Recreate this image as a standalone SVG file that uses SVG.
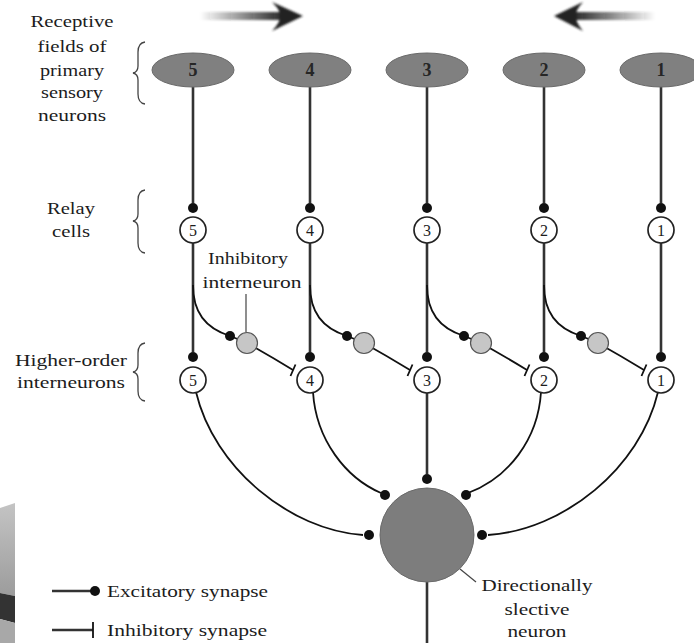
<svg xmlns="http://www.w3.org/2000/svg" width="694" height="643" viewBox="0 0 694 643">
  <style>
    .lbl { font-family: "Liberation Serif", serif; font-size: 17px; fill: #1c1c1c; }
    .num { font-family: "Liberation Serif", serif; font-size: 16px; fill: #1c1c1c; text-anchor: middle; }
    .big { font-size: 18px; font-weight: bold; fill: #262626; }
    .axon { stroke: #333; stroke-width: 2.6; fill: none; }
    .fiber { stroke: #111; stroke-width: 1.8; fill: none; }
    .field { fill: #808080; stroke: #6a6a6a; stroke-width: 1; }
    .cell { fill: #fff; stroke: #222; stroke-width: 1.7; }
    .inter { fill: #c6c6c6; stroke: #555; stroke-width: 1.2; }
    .syn { fill: #111; }
    .brace { stroke: #444; stroke-width: 1.3; fill: none; }
    .ptr { stroke: #444; stroke-width: 1.2; fill: none; }
  </style>
  <defs>
    <linearGradient id="shaftR" gradientUnits="userSpaceOnUse" x1="200" y1="0" x2="285" y2="0">
      <stop offset="0" stop-color="#222" stop-opacity="0"/>
      <stop offset="1" stop-color="#222" stop-opacity="1"/>
    </linearGradient>
    <linearGradient id="shaftL" gradientUnits="userSpaceOnUse" x1="655" y1="0" x2="572" y2="0">
      <stop offset="0" stop-color="#222" stop-opacity="0"/>
      <stop offset="1" stop-color="#222" stop-opacity="1"/>
    </linearGradient>
    <linearGradient id="slab" x1="0" y1="0" x2="0" y2="1">
      <stop offset="0" stop-color="#c4c4c4"/>
      <stop offset="1" stop-color="#9c9c9c"/>
    </linearGradient>
    <filter id="soft" x="-10%" y="-50%" width="120%" height="200%">
      <feGaussianBlur stdDeviation="1.1"/>
    </filter>
  </defs>

  <!-- grey slab at the lower left edge -->
  <g id="slab-edge">
    <polygon points="0,508 15,503 15,596 0,593" fill="url(#slab)"/>
    <polygon points="0,593 15,596 15,623 0,619" fill="#333"/>
    <polygon points="0,619 15,623 15,643 0,643" fill="#a8a8a8"/>
  </g>

  <!-- motion arrows -->
  <g id="motion-arrows" filter="url(#soft)">
    <rect x="200" y="12" width="82" height="8" fill="url(#shaftR)"/>
    <path d="M303,16 L272,2 Q282,12 279,16 Q282,20 272,31 Z" fill="#222"/>
    <rect x="574" y="12" width="82" height="8" fill="url(#shaftL)"/>
    <path d="M554,16 L583,2 Q574,12 577,16 Q574,20 583,31 Z" fill="#222"/>
  </g>

  <!-- left-hand labels and braces -->
  <g id="label-receptive" class="lbl" text-anchor="middle">
    <text x="72" y="27" textLength="83" lengthAdjust="spacingAndGlyphs">Receptive</text>
    <text x="72" y="52" textLength="69" lengthAdjust="spacingAndGlyphs">fields of</text>
    <text x="72" y="76" textLength="64" lengthAdjust="spacingAndGlyphs">primary</text>
    <text x="72" y="98" textLength="62" lengthAdjust="spacingAndGlyphs">sensory</text>
    <text x="72" y="121" textLength="68" lengthAdjust="spacingAndGlyphs">neurons</text>
  </g>
  <path class="brace" d="M145,42 Q138,43 138,52 L138,66 Q138,72 133,73 Q138,74 138,80 L138,94 Q138,103 145,104"/>

  <g id="label-relay" class="lbl" text-anchor="middle">
    <text x="71" y="214" textLength="48" lengthAdjust="spacingAndGlyphs">Relay</text>
    <text x="71" y="237" textLength="38" lengthAdjust="spacingAndGlyphs">cells</text>
  </g>
  <path class="brace" d="M145,190 Q138,191 138,200 L138,214 Q138,220 133,221 Q138,222 138,228 L138,243 Q138,252 145,253"/>

  <g id="label-higher" class="lbl" text-anchor="middle">
    <text x="71" y="366" textLength="112" lengthAdjust="spacingAndGlyphs">Higher-order</text>
    <text x="71" y="388" textLength="108" lengthAdjust="spacingAndGlyphs">interneurons</text>
  </g>
  <path class="brace" d="M145,343 Q138,344 138,353 L138,365 Q138,371 133,372 Q138,373 138,379 L138,391 Q138,400 145,401"/>

  <!-- connectors -->
  <g id="connectors">
    <!-- receptive field to relay cell to higher-order interneuron -->
    <path class="axon" d="M193,87 V203 M193,243 V352"/>
    <path class="axon" d="M310,87 V203 M310,243 V352"/>
    <path class="axon" d="M427,87 V203 M427,243 V352"/>
    <path class="axon" d="M544,87 V203 M544,243 V352"/>
    <path class="axon" d="M661,87 V203 M661,243 V352"/>

    <!-- collateral branches through inhibitory interneurons -->
    <path class="fiber" d="M193,285 C193,312 205,328 230,336 L245,342 Q270,356 293,370"/>
    <path class="fiber" d="M310,285 C310,312 322,328 347,336 L362,342 Q387,356 410,370"/>
    <path class="fiber" d="M427,285 C427,312 439,328 464,336 L479,342 Q504,356 527,370"/>
    <path class="fiber" d="M544,285 C544,312 556,328 581,336 L596,342 Q621,356 644,370"/>
    <!-- inhibitory bars -->
    <path class="fiber" d="M290.5,376 L295.5,364.5 M407.5,376 L412.5,364.5 M524.5,376 L529.5,364.5 M641.5,376 L646.5,364.5"/>

    <!-- higher-order interneurons converge on the output neuron -->
    <path class="fiber" d="M196,392 C214,468 290,530 363,535"/>
    <path class="fiber" d="M313,392 C316,440 346,478 381,493"/>
    <path class="axon" d="M427,393 V474"/>
    <path class="fiber" d="M541,392 C538,440 508,478 468,493"/>
    <path class="fiber" d="M658,392 C640,468 564,530 488,535"/>

    <!-- output axon -->
    <path class="axon" d="M427,582 V643"/>

    <!-- excitatory synapses -->
    <g class="syn">
      <circle cx="193" cy="208" r="5"/><circle cx="310" cy="208" r="5"/><circle cx="427" cy="208" r="5"/><circle cx="544" cy="208" r="5"/><circle cx="661" cy="208" r="5"/>
      <circle cx="193" cy="357" r="5"/><circle cx="310" cy="357" r="5"/><circle cx="427" cy="357" r="5"/><circle cx="544" cy="357" r="5"/><circle cx="661" cy="357" r="5"/>
      <circle cx="230" cy="336" r="5"/><circle cx="347" cy="336" r="5"/><circle cx="464" cy="336" r="5"/><circle cx="581" cy="336" r="5"/>
      <circle cx="369" cy="535" r="5"/><circle cx="385" cy="495" r="5"/><circle cx="427" cy="479" r="5"/><circle cx="466" cy="495" r="5"/><circle cx="482" cy="535" r="5"/>
    </g>
  </g>

  <!-- receptive fields of primary sensory neurons -->
  <g id="field-5"><ellipse class="field" cx="193" cy="70" rx="41" ry="17"/><text class="num big" x="193" y="76">5</text></g>
  <g id="field-4"><ellipse class="field" cx="310" cy="70" rx="41" ry="17"/><text class="num big" x="310" y="76">4</text></g>
  <g id="field-3"><ellipse class="field" cx="427" cy="70" rx="41" ry="17"/><text class="num big" x="427" y="76">3</text></g>
  <g id="field-2"><ellipse class="field" cx="544" cy="70" rx="41" ry="17"/><text class="num big" x="544" y="76">2</text></g>
  <g id="field-1"><ellipse class="field" cx="661" cy="70" rx="41" ry="17"/><text class="num big" x="661" y="76">1</text></g>

  <!-- relay cells -->
  <g id="relay-5"><circle class="cell" cx="193" cy="230" r="13"/><text class="num" x="193" y="236">5</text></g>
  <g id="relay-4"><circle class="cell" cx="310" cy="230" r="13"/><text class="num" x="310" y="236">4</text></g>
  <g id="relay-3"><circle class="cell" cx="427" cy="230" r="13"/><text class="num" x="427" y="236">3</text></g>
  <g id="relay-2"><circle class="cell" cx="544" cy="230" r="13"/><text class="num" x="544" y="236">2</text></g>
  <g id="relay-1"><circle class="cell" cx="661" cy="230" r="13"/><text class="num" x="661" y="236">1</text></g>

  <!-- inhibitory interneurons -->
  <g id="inhib-5"><circle class="inter" cx="247" cy="343" r="10.5"/></g>
  <g id="inhib-4"><circle class="inter" cx="364" cy="343" r="10.5"/></g>
  <g id="inhib-3"><circle class="inter" cx="481" cy="343" r="10.5"/></g>
  <g id="inhib-2"><circle class="inter" cx="598" cy="343" r="10.5"/></g>

  <g id="label-inhibitory" class="lbl" text-anchor="middle">
    <text x="248" y="264" textLength="80" lengthAdjust="spacingAndGlyphs">Inhibitory</text>
    <text x="252" y="288" textLength="99" lengthAdjust="spacingAndGlyphs">interneuron</text>
    <path class="ptr" d="M246,294 V332"/>
  </g>

  <!-- higher-order interneurons -->
  <g id="higher-5"><circle class="cell" cx="193" cy="380" r="13"/><text class="num" x="193" y="386">5</text></g>
  <g id="higher-4"><circle class="cell" cx="310" cy="380" r="13"/><text class="num" x="310" y="386">4</text></g>
  <g id="higher-3"><circle class="cell" cx="427" cy="380" r="13"/><text class="num" x="427" y="386">3</text></g>
  <g id="higher-2"><circle class="cell" cx="544" cy="380" r="13"/><text class="num" x="544" y="386">2</text></g>
  <g id="higher-1"><circle class="cell" cx="661" cy="380" r="13"/><text class="num" x="661" y="386">1</text></g>

  <!-- directionally selective output neuron -->
  <g id="output-neuron">
    <circle cx="427" cy="535" r="47" fill="#7d7d7d" stroke="#6a6a6a" stroke-width="1"/>
    <path class="ptr" d="M460,569 L476,582"/>
    <g class="lbl" text-anchor="middle">
      <text x="537" y="591" textLength="111" lengthAdjust="spacingAndGlyphs">Directionally</text>
      <text x="537" y="615" textLength="65" lengthAdjust="spacingAndGlyphs">slective</text>
      <text x="537" y="637" textLength="59" lengthAdjust="spacingAndGlyphs">neuron</text>
    </g>
  </g>

  <!-- key -->
  <g id="legend">
    <path class="axon" d="M52,591 H92"/>
    <circle class="syn" cx="95" cy="591" r="5"/>
    <text class="lbl" x="107" y="597" textLength="161" lengthAdjust="spacingAndGlyphs">Excitatory synapse</text>
    <path class="axon" d="M52,630 H93"/>
    <path class="fiber" d="M93,622 V638"/>
    <text class="lbl" x="107" y="636" textLength="160" lengthAdjust="spacingAndGlyphs">Inhibitory synapse</text>
  </g>
</svg>
